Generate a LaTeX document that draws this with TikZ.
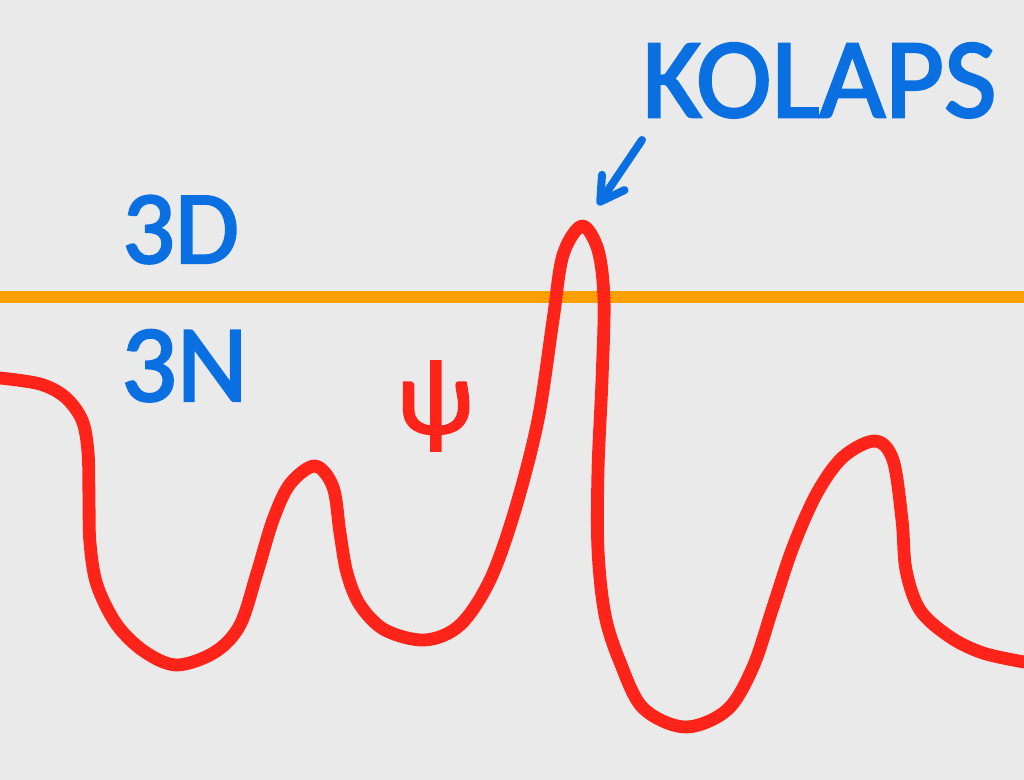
\documentclass[tikz,border=0pt]{standalone}
\usepackage{fontspec}
\setmainfont{Carlito}
\newfontfamily\tagfont{Carlito}[FakeBold=2.2]
\usetikzlibrary{positioning, arrows.meta}
\definecolor{bgGrey}{HTML}{EAEAEA}
\definecolor{tagBlue}{HTML}{0A70E2}
\definecolor{waveRed}{HTML}{FF2419}
\definecolor{levelOrange}{HTML}{FFA000}

\begin{document}
\begin{tikzpicture}[
		x=0.25mm, y=-0.25mm,
		tag/.style={text=tagBlue, inner sep=0pt, anchor=base west},
		level/.style={draw=levelOrange, line width=3mm},
		wave/.style={draw=waveRed, line width=3.2mm, line cap=round, line join=round},
		arrow/.style={draw=tagBlue, line width=2mm, line cap=round,
			-{Straight Barb[round, length=5.8mm, width=6.8mm]}},
		]
		% background and frame
		\useasboundingbox (0,0) rectangle (1024,780);
		\fill[bgGrey] (0,0) rectangle (1024,780);
		
		% dimension labels
		\node[tag, font=\tagfont\fontsize{74}{80}\selectfont] (dimd) at (122,263) {3D};
		\node[tag, font=\tagfont\fontsize{78}{84}\selectfont] (dimn) at (121,401) {3N};
		
		% level line
		\draw[level] (0,297) -- (1024,297);
		
		% wave function
		\draw[wave] plot[smooth, tension=0.55] coordinates {
			(0,378) (40,384) (65,397) (82,420) (88,452) (89,500) (90,543)
			(97,585) (117,625) (145,652) (177,665) (215,652) (240,625)
			(257,573) (273,520) (290,484) (315,466) (333,487) (340,533)
			(347,573) (360,605) (385,630) (425,640) (460,625) (490,580)
			(515,510) (538,420) (553,320) (563,255) (582,226) (598,250)
			(604,300) (602,380) (598,470) (598,550) (605,615) (620,662)
			(643,708) (685,727) (727,710) (753,667) (773,607) (793,547)
			(817,493) (843,457) (875,441) (893,460) (902,520) (906,570)
			(920,610) (950,637) (983,653) (1024,662)};
		\node[text=waveRed, inner sep=0pt, font=\tagfont\fontsize{76}{80}\selectfont] (psi) at (435,406) {ψ};
		
		% collapse label and pointer
		\node[tag, font=\tagfont\fontsize{81}{86}\selectfont] (kolaps) at (642,117) {KOLAPS};
		\coordinate (tail) at (642,140);
		\coordinate (peak) at (598,205);
		\draw[arrow] (tail) -- (peak);
	\end{tikzpicture}
\end{document}
